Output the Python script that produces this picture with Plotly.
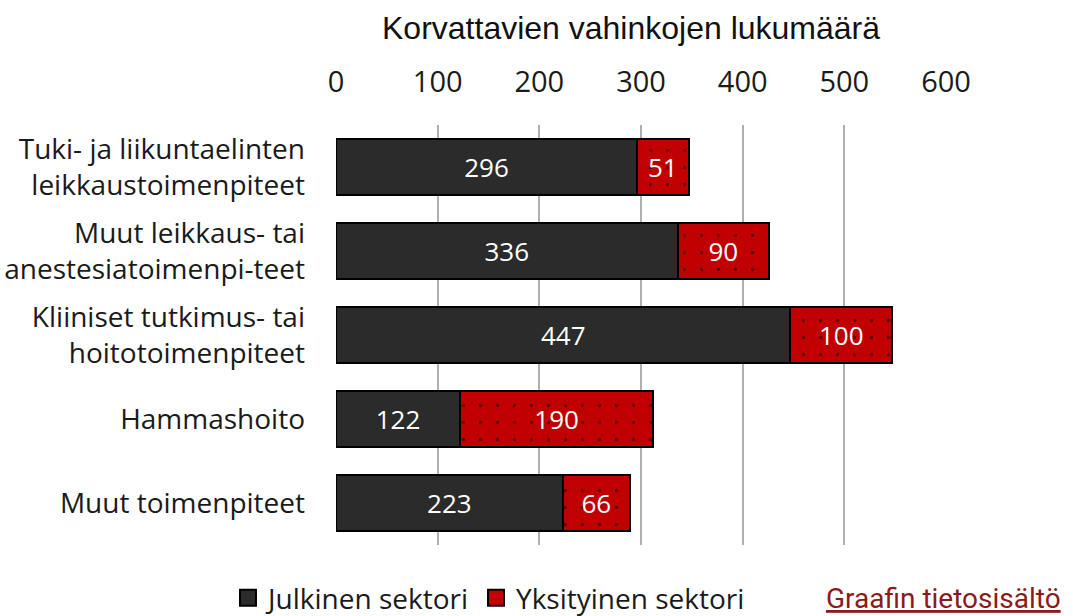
import plotly.graph_objects as go

categories = ["Tuki- ja liikuntaelinten<br>leikkaustoimenpiteet",
              "Muut leikkaus- tai<br>anestesiatoimenpi-teet",
              "Kliiniset tutkimus- tai<br>hoitotoimenpiteet",
              "Hammashoito",
              "Muut toimenpiteet"]
julkinen = [296, 336, 447, 122, 223]
yksityinen = [51, 90, 100, 190, 66]
x_ticks = [0, 100, 200, 300, 400, 500, 600]
series_names = ["Julkinen sektori", "Yksityinen sektori"]

FONT = "Open Sans"
DARK = "#2b2b2b"
RED = "#c00000"

fig = go.Figure()
fig.add_trace(go.Bar(
    y=categories, x=julkinen, orientation="h", name=series_names[0], showlegend=False,
    marker=dict(color=DARK, line=dict(color="#000000", width=2)),
    text=julkinen, textposition="inside", insidetextanchor="middle",
    textangle=0, textfont=dict(color="white", size=26, family=FONT),
))
fig.add_trace(go.Bar(
    y=categories, x=yksityinen, orientation="h", name=series_names[1], showlegend=False,
    marker=dict(color=RED, line=dict(color="#000000", width=2),
                pattern=dict(shape=".", fgcolor="#000000", bgcolor=RED,
                             size=17, solidity=0.03, fillmode="overlay")),
    text=yksityinen, textposition="inside", insidetextanchor="middle",
    textangle=0, textfont=dict(color="white", size=26, family=FONT),
))
# legend entries (square symbols like the reference)
for nm, col in zip(series_names, [DARK, RED]):
    fig.add_trace(go.Scatter(
        x=[None], y=[None], mode="markers", name=nm, showlegend=True,
        marker=dict(symbol="square", size=18, color=col, line=dict(color="#000000", width=2)),
    ))

W, H = 1073, 616
L, R, T, B = 336, 127, 125, 71
plot_h = H - T - B
plot_w = W - L - R

def px_x(p):
    return (p - L) / plot_w

def px_y(p):
    return (H - B - p) / plot_h

fig.update_layout(
    barmode="stack", bargap=0.33,
    width=W, height=H,
    margin=dict(l=L, r=R, t=T, b=B, autoexpand=False),
    paper_bgcolor="white", plot_bgcolor="white",
    font=dict(family=FONT, size=28, color="#1a1a1a"),
    showlegend=True,
    legend=dict(orientation="h", x=px_x(228), xanchor="left", y=px_y(598), yanchor="middle",
                font=dict(size=28, family=FONT), itemwidth=30, traceorder="normal",
                tracegroupgap=0, bgcolor="rgba(0,0,0,0)", borderwidth=0),
    xaxis=dict(side="top", range=[0, 600], tickvals=x_ticks, showgrid=True,
               gridcolor="#b0b0b0", gridwidth=1.5, zeroline=False, showline=False,
               ticks="", ticklabelstandoff=26, tickfont=dict(size=29), automargin=False),
    yaxis=dict(autorange="reversed", showgrid=False, showline=False, ticks="",
               ticklabelstandoff=30, tickfont=dict(size=28), automargin=False),
    annotations=[
        dict(text="Korvattavien vahinkojen lukumäärä", xref="paper", yref="paper",
             x=px_x(631), y=px_y(28), xanchor="center", yanchor="middle", showarrow=False,
             font=dict(size=32, family="Liberation Sans", color="#111111")),
        dict(text='<a href="#" style="color:#8b1a1a"><u>Graafin tietosisältö</u></a>',
             xref="paper", yref="paper", x=px_x(824), y=px_y(598), xanchor="left",
             yanchor="middle", showarrow=False,
             font=dict(size=28, family="Roboto", color="#8b1a1a")),
    ],
)

fig.write_html("out.html", config={"displayModeBar": False},
               post_script="document.body.style.margin='0';document.body.style.padding='0';")
